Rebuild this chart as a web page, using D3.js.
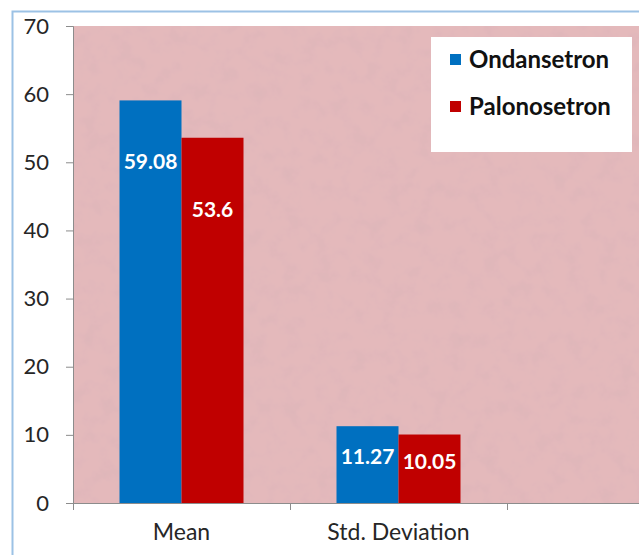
<!DOCTYPE html>
<html>
<head>
<meta charset="utf-8" />
<script src="https://cdnjs.cloudflare.com/ajax/libs/d3/7.8.5/d3.min.js"></script>
<style>
    body { margin: 0; background: #fff; }
    svg { display: block; font-family: Lato, "Open Sans", sans-serif; }
    .tick text { fill: #262626; }
</style>
</head>
<body>
<div id="chart"></div>
<script>
    // data
    var categories = ["Mean", "Std. Deviation", ""];
    var seriesNames = ["Ondansetron", "Palonosetron"];
    var ondansetron = [59.08, 11.27];
    var palonosetron = [53.6, 10.05];
    var yTicks = [0, 10, 20, 30, 40, 50, 60, 70];

    (function(d3) {
        'use strict';

        var colors = ["#0070c0", "#c00000"];
        var seriesValues = [ondansetron, palonosetron];
        var font = 'Lato, "Open Sans", sans-serif';

        var width = 639, height = 555;
        var plotLeft = 73, plotTop = 26, plotBottom = 503, plotRight = 724;

        var svg = d3.select('#chart').append('svg')
            .attr('width', width)
            .attr('height', height);

        // mottled paper texture for plot area
        var defs = svg.append('defs');
        var filt = defs.append('filter').attr('id', 'paper')
            .attr('x', 0).attr('y', 0).attr('width', '100%').attr('height', '100%');
        filt.append('feTurbulence').attr('type', 'fractalNoise')
            .attr('baseFrequency', 0.06).attr('numOctaves', 4).attr('seed', 7).attr('result', 'noise');
        filt.append('feColorMatrix').attr('in', 'noise').attr('type', 'matrix')
            .attr('values', '0 0 0 0 0.7  0 0 0 0 0.45  0 0 0 0 0.48  1.1 0 0 0 -0.45').attr('result', 'dark');
        filt.append('feComposite').attr('in', 'dark').attr('in2', 'SourceGraphic').attr('operator', 'atop');

        // outer frame
        svg.append('path')
            .attr('d', 'M12.5,' + height + 'V11.5H' + width)
            .attr('fill', 'none')
            .attr('stroke', '#9cc2e5')
            .attr('stroke-width', 2);

        var x = d3.scaleBand().domain(categories).range([plotLeft, plotRight]);
        var xInner = d3.scaleBand().domain(seriesNames).range([0, x.bandwidth()]).paddingOuter(0.75).paddingInner(0);
        var y = d3.scaleLinear().domain([0, 70]).range([plotBottom, plotTop]);

        svg.append('rect')
            .attr('x', plotLeft).attr('y', plotTop)
            .attr('width', plotRight - plotLeft).attr('height', plotBottom - plotTop)
            .attr('fill', '#e4b9bb')
            .attr('filter', 'url(#paper)');

        // axes
        var yAxis = svg.append('g')
            .attr('transform', 'translate(' + plotLeft + ',0)')
            .call(d3.axisLeft(y).tickValues(yTicks).tickSize(7).tickPadding(17));
        yAxis.attr('font-family', font);
        yAxis.select('.domain').attr('stroke', '#8c8c8c');
        yAxis.selectAll('.tick line').attr('stroke', '#8c8c8c');
        yAxis.selectAll('.tick text').style('font-size', '22px');

        var xAxis = svg.append('g')
            .attr('transform', 'translate(0,' + plotBottom + ')')
            .call(d3.axisBottom(x).tickSize(0).tickPadding(21));
        xAxis.attr('font-family', font);
        xAxis.select('.domain').attr('stroke', '#8c8c8c').attr('d', 'M' + (plotLeft - 7) + ',0.5H' + plotRight);
        xAxis.selectAll('.tick text').style('font-size', '23px');
        xAxis.selectAll('.sep')
            .data(categories)
            .enter().append('line')
            .attr('x1', function(d) { return x(d) + 0.5; })
            .attr('x2', function(d) { return x(d) + 0.5; })
            .attr('y1', 0).attr('y2', 7)
            .attr('stroke', '#8c8c8c');

        // bars
        var bars = [];
        seriesNames.forEach(function(s, si) {
            seriesValues[si].forEach(function(v, ci) {
                bars.push({ series: s, si: si, cat: categories[ci], value: v });
            });
        });

        svg.selectAll('.bar')
            .data(bars)
            .enter().append('rect')
            .attr('class', 'bar')
            .attr('x', function(d) { return x(d.cat) + xInner(d.series); })
            .attr('width', xInner.bandwidth())
            .attr('y', function(d) { return y(d.value); })
            .attr('height', function(d) { return y(0) - y(d.value); })
            .attr('fill', function(d) { return colors[d.si]; });

        svg.selectAll('.lbl')
            .data(bars)
            .enter().append('text')
            .attr('class', 'lbl')
            .attr('x', function(d) { return x(d.cat) + xInner(d.series) + xInner.bandwidth() / 2; })
            .attr('y', function(d) {
                var h = y(0) - y(d.value);
                return y(d.value) + Math.min(62 + d.si * 10, h * 0.4) + 7;
            })
            .attr('text-anchor', 'middle')
            .attr('fill', '#fff')
            .style('font-size', '21px')
            .style('font-weight', 'bold')
            .text(function(d) { return d.value; });

        // legend
        var lg = svg.append('g').attr('transform', 'translate(431,37)');
        lg.append('rect').attr('width', 201).attr('height', 115).attr('fill', '#fff');
        var items = lg.selectAll('.item')
            .data(seriesNames)
            .enter().append('g')
            .attr('transform', function(d, i) { return 'translate(19,' + (17 + i * 47) + ')'; });
        items.append('rect').attr('width', 11).attr('height', 11)
            .attr('fill', function(d, i) { return colors[i]; });
        items.append('text')
            .attr('x', 19).attr('y', 14)
            .style('font-size', '24px')
            .style('font-weight', 'bold')
            .attr('fill', '#111')
            .text(function(d) { return d; });
    })(window.d3);
</script>
</body>
</html>
